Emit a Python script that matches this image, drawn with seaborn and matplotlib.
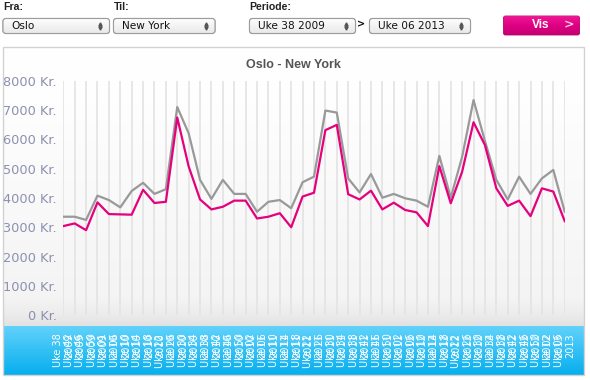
import numpy as np
import pandas as pd
import matplotlib
matplotlib.use("Agg")
import matplotlib.pyplot as plt
import matplotlib.transforms as mtransforms
from matplotlib.patches import FancyBboxPatch, Rectangle
from matplotlib.lines import Line2D
import seaborn as sns

# ---------------- data ----------------
weeks = ["38", "42", "46", "50",
         "01", "06", "10", "14", "18", "22", "26", "30", "34", "38", "42", "46", "50",
         "02", "06", "10", "14", "18", "22", "26", "30", "34", "38", "42", "46", "50",
         "02", "06", "10", "14", "18", "22", "26", "30", "34", "38", "42", "46", "50",
         "02", "06"]
years = ["2009"] * 4 + ["2010"] * 13 + ["2011"] * 13 + ["2012"] * 13 + ["2013"] * 2

snitt_pris = [3360, 3360, 3250, 4080, 3930, 3680, 4240, 4520, 4140, 4300, 7110, 6210,
              4620, 3970, 4620, 4140, 4140, 3530, 3870, 3930, 3650, 4540, 4730,
              6990, 6920, 4670, 4190, 4820, 4010, 4140, 3990, 3910, 3700, 5440,
              4010, 5410, 7350, 5950, 4620, 3950, 4730, 4140, 4670, 4960, 3530]
laveste_pris = [3040, 3130, 2900, 3850, 3450, 3440, 3430, 4280, 3830, 3870, 6750, 5080,
                3950, 3610, 3700, 3910, 3910, 3300, 3360, 3480, 3000, 4050, 4180,
                6320, 6500, 4130, 3950, 4250, 3610, 3840, 3590, 3510, 3040, 5090,
                3820, 4900, 6590, 5810, 4330, 3730, 3910, 3380, 4330, 4220, 3210]
yticks = [0, 1000, 2000, 3000, 4000, 5000, 6000, 7000, 8000]
ytick_labels = [f"{v} Kr." for v in yticks]
title = "Oslo - New York"

W, H = 590, 380
fig = plt.figure(figsize=(W / 100, H / 100), dpi=100)
fig.patch.set_facecolor("white")


def px(x0, y0, x1, y1):
    return [x0 / W, 1 - y1 / H, (x1 - x0) / W, (y1 - y0) / H]


# ---------------- page / frame background ----------------
base = fig.add_axes([0, 0, 1, 1])
base.set_axis_off()


def vgrad(c_top, c_bot, n=256, stops=None):
    from matplotlib.colors import to_rgb
    if stops is None:
        stops = [(0, c_top), (1, c_bot)]
    t = np.linspace(0, 1, n)
    pos = [s[0] for s in stops]
    cols = np.array([to_rgb(s[1]) for s in stops])
    arr = np.stack([np.interp(t, pos, cols[:, k]) for k in range(3)], axis=1)
    return arr[:, None, :]


# chart frame gradient
base.imshow(vgrad(None, None, stops=[(0, "#ffffff"), (0.2, "#fefefe"), (0.9, "#f4f4f4"), (0.96, "#ececec"), (1, "#e2e2e2")]),
            extent=(3, 584, 326, 47), origin="upper", aspect="auto", zorder=0)
# blue band
base.imshow(vgrad("#62d2fb", "#06aeee"), extent=(3, 584, 375, 326), origin="upper", aspect="auto", zorder=0)
base.add_patch(Rectangle((3, 47), 581, 328, facecolor="none", edgecolor="#d2d2d2", lw=1.0, zorder=1))

# form labels
lab_kw = dict(fontsize=7.6, fontweight="bold", family="Liberation Sans", color="#222222", va="center", ha="left")
base.text(3, 7, "Fra:", **lab_kw)
base.text(114, 7, "Til:", **lab_kw)
base.text(249, 7, "Periode:", **lab_kw)


def select_box(x0, x1, text):
    y0, y1 = 18.5, 33.5
    p = FancyBboxPatch((x0, y0), x1 - x0, y1 - y0, boxstyle="round,pad=0,rounding_size=3",
                       facecolor="#f4f4f4", edgecolor="#9c9c9c", lw=0.8, zorder=2)
    base.add_patch(p)
    im = base.imshow(vgrad("#ffffff", "#e9e9e9"), extent=(x0, x1, y1, y0), origin="upper", aspect="auto", zorder=2.1)
    im.set_clip_path(p)
    p2 = FancyBboxPatch((x0, y0), x1 - x0, y1 - y0, boxstyle="round,pad=0,rounding_size=3",
                        facecolor="none", edgecolor="#9c9c9c", lw=0.8, zorder=2.2)
    base.add_patch(p2)
    base.text(x0 + 8, 26.3, text, fontsize=7.6, family="DejaVu Sans", color="#111111", va="center", ha="left", zorder=3)
    ax_ = x1 - 9.5
    base.add_line(Line2D([ax_], [24.2], marker="^", ms=2.3, color="#555555", lw=0, zorder=3))
    base.add_line(Line2D([ax_], [28.2], marker="v", ms=2.3, color="#555555", lw=0, zorder=3))


select_box(3, 109.5, "Oslo")
select_box(113.5, 215, "New York")
select_box(249.5, 355.5, "Uke 38 2009")
select_box(369.5, 470.5, "Uke 06 2013")
base.text(361, 24.5, ">", fontsize=7, fontweight="bold", family="DejaVu Sans", color="#111111", ha="center", va="center")

# Vis button
bp = FancyBboxPatch((503.5, 16), 76, 19, boxstyle="round,pad=0,rounding_size=2",
                    facecolor="#d6007a", edgecolor="#b8006a", lw=0.6, zorder=2)
base.add_patch(bp)
bim = base.imshow(vgrad(None, None, stops=[(0, "#ec1893"), (0.5, "#df0084"), (1, "#c2006e")]),
                  extent=(503.5, 579.5, 35, 16), origin="upper", aspect="auto", zorder=2.1)
bim.set_clip_path(bp)
base.text(541, 25.3, "Vis", fontsize=8.5, fontweight="bold", family="Liberation Sans", color="white",
          ha="center", va="center", zorder=3)
base.text(568.5, 25.3, ">", fontsize=9, fontweight="bold", family="DejaVu Sans", color="#f6c8e2",
          ha="center", va="center", zorder=3)

base.text(293, 64.5, title, fontsize=9, fontweight="bold", family="Liberation Sans", color="#555555",
          ha="center", va="center")

base.set_xlim(0, W)
base.set_ylim(H, 0)

# ---------------- chart ----------------
ax = fig.add_axes(px(63.3, 81, 564.7, 315))
ax.patch.set_alpha(0)

df = pd.DataFrame({
    "idx": list(range(len(weeks))) * 2,
    "pris": snitt_pris + laveste_pris,
    "serie": ["snitt"] * len(weeks) + ["laveste"] * len(weeks),
})
sns.lineplot(data=df, x="idx", y="pris", hue="serie", palette={"snitt": "#999999", "laveste": "#e5007d"},
             linewidth=1.6, legend=False, ax=ax, zorder=3)

ax.set_xlim(0, len(weeks) - 1)
ax.set_ylim(0, 8000)
ax.set_xticks(range(len(weeks)))
ax.grid(axis="x", color="#e3e3e3", lw=1.2, zorder=0)
ax.grid(axis="y", visible=False)
ax.tick_params(axis="x", length=0, labelbottom=False)
ax.set_yticks(yticks)
ax.set_yticklabels(ytick_labels, fontsize=9.3, family="DejaVu Sans", color="#8c90b0")
ax.tick_params(axis="y", length=0, pad=4.5)
for s in ax.spines.values():
    s.set_visible(False)
ax.set_xlabel("")
ax.set_ylabel("")

# x labels in blue band (week line and year line, one tick-step apart)
tr = mtransforms.blended_transform_factory(ax.transData, fig.transFigure)
ytop = 1 - 333.5 / H
for i, (w, yr) in enumerate(zip(weeks, years)):
    ax.text(i - 0.5, ytop, f"Uke {w}", transform=tr, rotation=90, ha="center", va="top",
            fontsize=7, family="DejaVu Sans", color="white", clip_on=False)
    ax.text(i + 0.5, ytop, yr, transform=tr, rotation=90, ha="center", va="top",
            fontsize=7, family="DejaVu Sans", color="white", clip_on=False)

fig.savefig("out.png", dpi=100, facecolor="white")
